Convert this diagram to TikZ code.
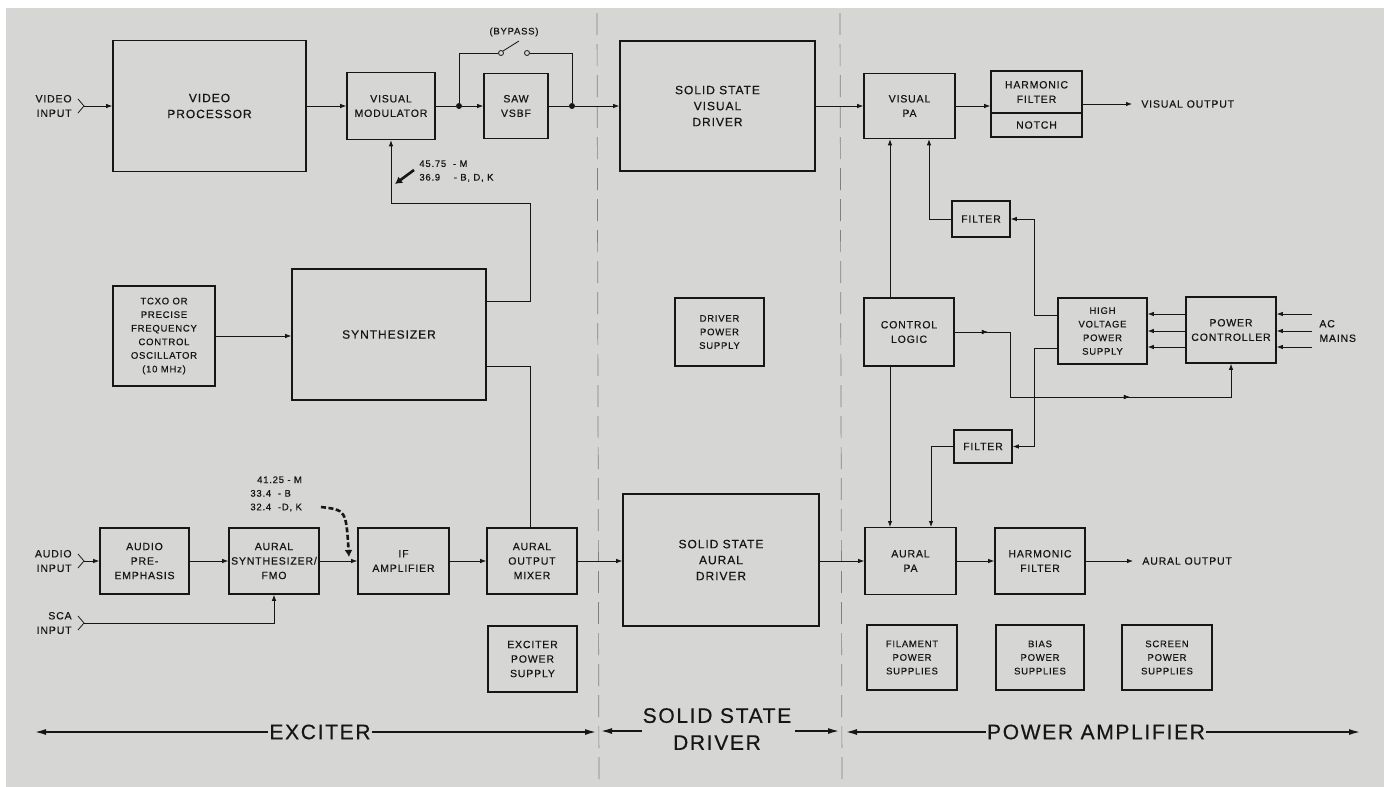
\documentclass[tikz,border=0pt]{standalone}
\usepackage{fontspec}
\setmainfont{Liberation Sans}[LetterSpace=8, FakeBold=0.5]
\usetikzlibrary{arrows.meta,decorations.markings}
\definecolor{bg}{RGB}{214,214,212}
\definecolor{ink}{RGB}{22,22,22}
\newcommand\fbig{\fontsize{12}{16}\selectfont}
\newcommand\fsm{\fontsize{10.5}{14.5}\selectfont}
\newcommand\fti{\fontsize{9.5}{13.6}\selectfont}
\newcommand\flab{\fontsize{21}{27}\selectfont}
\begin{document}
\begin{tikzpicture}[x=1pt,y=-1pt, line width=0.8pt, draw=ink,
 box/.style={draw=ink, line width=1.6pt, inner sep=0pt, align=center, font=\fsm, text=ink},
 arr/.style={-{Latex[length=6pt,width=4.5pt]}},
 bigarr/.style={line width=1.4pt,-{Latex[length=11pt,width=6pt]}},
 jdot/.style={circle, fill=ink, inner sep=0pt, minimum size=6pt},
 contact/.style={circle, draw=ink, fill=bg, line width=0.8pt, inner sep=0pt, minimum size=5pt},
 sepline/.style={draw=black!50, line width=0.7pt, dash pattern=on 22pt off 9pt},
 lbl/.style={font=\fsm, align=left, inner sep=0pt, text=ink},
 midarrow/.style={postaction={decorate}, decoration={markings, mark=at position #1 with {\arrow{Latex[length=6pt,width=4.5pt]}}}}
]
\useasboundingbox (0,0) rectangle (1384,787);
\fill[white] (0,0) rectangle (1384,787);
\fill[bg] (6,8) rectangle (1384,787);

% separators
\draw[sepline] (597,13) -- (599,787);
\draw[sepline] (840,13) -- (842,787);

% ---------- top row ----------
\node[box, font=\fbig, minimum width=193, minimum height=131] (vp) at (209.5,106) {VIDEO\\PROCESSOR};
\node[box, minimum width=88, minimum height=67] (vmod) at (391,106) {VISUAL\\MODULATOR};
\node[box, minimum width=64, minimum height=65] (saw) at (516,106) {SAW\\VSBF};
\node[box, font=\fbig, minimum width=195, minimum height=130] (svd) at (717.5,106) {SOLID STATE\\VISUAL\\DRIVER};
\node[box, minimum width=91, minimum height=65] (vpa) at (909.5,106) {VISUAL\\PA};
\node[box, minimum width=91, minimum height=66] (hf) at (1036.5,104) {};
\draw[line width=1.6pt] (hf.west |- 0,113) -- (hf.east |- 0,113);
\node[lbl, align=center] (hft) at (1036.5,92) {HARMONIC\\FILTER};
\node[lbl] (hfn) at (1036.5,125) {NOTCH};

% video input
\node[lbl, align=right, anchor=east] (vinl) at (72,106) {VIDEO\\INPUT};
\coordinate (vin) at (84,106);
\draw (78,99) -- (vin) -- (78,113);
\draw[arr] (vin) -- (vp.west);
\draw[arr] (vp.east) -- (vmod.west);
\node[jdot] (d1) at (459,106) {};
\node[jdot] (d2) at (572,106) {};
\draw (vmod.east) -- (d1);
\draw[arr] (d1) -- (saw.west);
\draw (saw.east) -- (d2);
\draw[arr] (d2) -- (svd.west);
% bypass
\node[contact] (c1) at (501,53) {};
\node[contact] (c2) at (527,53) {};
\draw (d1) |- (c1);
\draw (c2) -| (d2);
\coordinate (blade) at (519,41);
\draw (c1.north east) -- (blade);
\node[lbl, font=\fti] (byp) at (514,32) {(BYPASS)};

\draw[arr] (svd.east) -- (vpa.west);
\draw[arr] (vpa.east) -- (hf.west |- vpa.east);
\coordinate (vout) at (1132,104);
\draw[arr] (hf.east |- vout) -- (vout);
\node[lbl, anchor=west] (voutl) at (1141,104) {VISUAL OUTPUT};

% ---------- synthesizer ----------
\node[box, font=\fti, minimum width=102, minimum height=100] (tcxo) at (164,336) {TCXO OR\\PRECISE\\FREQUENCY\\CONTROL\\OSCILLATOR\\(10 MHz)};
\node[box, font=\fbig, minimum width=194, minimum height=131] (syn) at (389,334.5) {SYNTHESIZER};
\draw[arr] (tcxo.east) -- (tcxo.east -| syn.west);
\coordinate (s1) at (486,301);
\coordinate (s2) at (486,366);
\draw[arr] (s1) -- (530,301) -- (530,203) -- (391,203) -- (vmod.south);
\node[lbl, font=\fti, anchor=north west] (frq1) at (419,160) {45.75 \ - M\\36.9 \ \ \ - B, D, K};
\coordinate (fa1) at (414,170);
\coordinate (fa2) at (395,184);
\draw[line width=2.6pt, -{Latex[length=7pt,width=8pt]}] (fa1) -- (fa2);

\node[box, font=\fti, minimum width=89, minimum height=68] (dps) at (719.5,332) {DRIVER\\POWER\\SUPPLY};

% ---------- power amplifier control ----------
\node[box, minimum width=58, minimum height=36] (f1) at (981,219) {FILTER};
\node[box, minimum width=90, minimum height=68] (ctl) at (909,332) {CONTROL\\LOGIC};
\node[box, font=\fti, minimum width=89, minimum height=66] (hv) at (1102.5,331) {HIGH\\VOLTAGE\\POWER\\SUPPLY};
\node[box, minimum width=90, minimum height=66] (pc) at (1231,330) {POWER\\CONTROLLER};
\node[box, minimum width=58, minimum height=33] (f2) at (983,446.5) {FILTER};

\draw[arr] (ctl.north -| 890,0) -- (vpa.south -| 890,0);
\draw[arr] (ctl.south -| 890,0) -- (890,527);
\draw[arr] (f1.west) -- (929,219) -- (vpa.south -| 929,0);
\draw[arr] (hv.west |- 0,315) -- (1034,315) -- (1034,219) -- (f1.east);
\draw[arr] (hv.west |- 0,348) -- (1034,348) -- (1034,446.5) -- (f2.east);
\draw[arr] (f2.west) -- (931,446.5) -- (931,527);
\draw[arr, midarrow=33pt, midarrow=240pt] (ctl.east) -- (1010,332) -- (1010,397) -- (pc.south |- 0,397) -- (pc.south);
\foreach \yy in {314,331,347}{
  \draw[arr] (pc.west |- 0,\yy) -- (hv.east |- 0,\yy);
  \draw[arr] (1312,\yy) -- (pc.east |- 0,\yy);
}
\node[lbl, anchor=west] (acm) at (1319,331) {AC\\MAINS};

% ---------- bottom row ----------
\node[box, minimum width=89, minimum height=66] (ape) at (144.5,561) {AUDIO\\PRE-\\EMPHASIS};
\node[box, minimum width=90, minimum height=66] (asyn) at (274,561) {AURAL\\SYNTHESIZER/\\FMO};
\node[box, minimum width=91, minimum height=66] (ifa) at (403.5,561) {IF\\AMPLIFIER};
\node[box, minimum width=90, minimum height=66] (aom) at (532,561) {AURAL\\OUTPUT\\MIXER};
\node[box, minimum width=89, minimum height=66] (eps) at (532.5,659) {EXCITER\\POWER\\SUPPLY};
\node[box, font=\fbig, minimum width=196, minimum height=132] (sad) at (721,560) {SOLID STATE\\AURAL\\DRIVER};
\node[box, minimum width=91, minimum height=67] (apa) at (910.5,561) {AURAL\\PA};
\node[box, minimum width=90, minimum height=66] (ahf) at (1040,561) {HARMONIC\\FILTER};
\node[box, font=\fti, minimum width=90, minimum height=65] (fil) at (912,657.5) {FILAMENT\\POWER\\SUPPLIES};
\node[box, font=\fti, minimum width=88, minimum height=65] (bias) at (1040,657.5) {BIAS\\POWER\\SUPPLIES};
\node[box, font=\fti, minimum width=90, minimum height=65] (scr) at (1167,657.5) {SCREEN\\POWER\\SUPPLIES};

\node[lbl, align=right, anchor=east] (ainl) at (72,561) {AUDIO\\INPUT};
\coordinate (ain) at (84,561);
\draw (78,554) -- (ain) -- (78,568);
\draw[arr] (ain) -- (ape.west);
\node[lbl, align=right, anchor=east] (scal) at (72,623) {SCA\\INPUT};
\coordinate (sca) at (84,623);
\draw (78,616) -- (sca) -- (78,630);
\draw[arr] (sca) -| (asyn.south);

\draw[arr] (ape.east) -- (asyn.west);
\draw[arr] (asyn.east) -- (ifa.west);
\draw[arr] (ifa.east) -- (aom.west);
\draw[arr] (aom.east) -- (sad.west |- aom.east);
\draw[arr] (sad.east |- apa.west) -- (apa.west);
\draw[arr] (apa.east) -- (ahf.west);
\coordinate (aout) at (1133,561);
\draw[arr] (ahf.east) -- (aout);
\node[lbl, anchor=west] (aoutl) at (1142,561) {AURAL OUTPUT};
\draw (s2) -- (530,366) -- (aom.north -| 530,0);

\node[lbl, font=\fti, anchor=north west] (frq2) at (250,476) {\ \ 41.25 - M\\33.4 \ - B\\32.4 \ -D, K};
\coordinate (da1) at (321,507);
\coordinate (da2) at (349,557);
\draw[line width=2.6pt, dash pattern=on 5pt off 2.5pt, -{Latex[length=7pt,width=8pt]}] (da1) .. controls (346,510) .. (da2);

% ---------- bottom labels ----------
\node[font=\flab, text=ink, inner sep=1pt] (exc) at (320,732) {EXCITER};
\draw[bigarr] (exc.west) -- (35,732);
\draw[bigarr] (exc.east) -- (596,732);
\node[font=\flab, text=ink, align=center, inner sep=1pt] (ssd) at (717,729) {SOLID STATE\\DRIVER};
\coordinate (ssl) at (642,731);
\coordinate (ssr) at (795,731);
\draw[bigarr] (ssl) -- (601,731);
\draw[bigarr] (ssr) -- (839,731);
\node[font=\flab, text=ink, inner sep=1pt] (pamp) at (1096,732) {POWER AMPLIFIER};
\draw[bigarr] (pamp.west) -- (846,732);
\draw[bigarr] (pamp.east) -- (1360,732);
\end{tikzpicture}
\end{document}
